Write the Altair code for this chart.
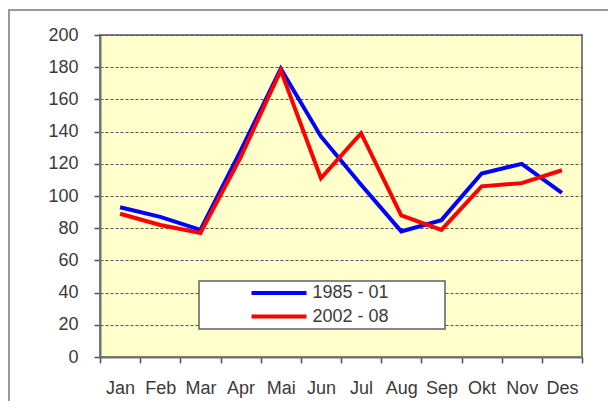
import altair as alt
import pandas as pd

months = ["Jan", "Feb", "Mar", "Apr", "Mai", "Jun", "Jul", "Aug", "Sep", "Okt", "Nov", "Des"]
series_names = ["1985 - 01", "2002 - 08"]
s1985 = [93, 87, 79, 128, 179, 137, 107, 78, 85, 114, 120, 102]
s2002 = [89, 82, 77, 124, 178, 111, 139, 88, 79, 106, 108, 116]
colors = ["#0000FF", "#FF0000"]
y_ticks = [0, 20, 40, 60, 80, 100, 120, 140, 160, 180, 200]

df = pd.DataFrame({
    "month": months * 2,
    "value": s1985 + s2002,
    "series": [series_names[0]] * 12 + [series_names[1]] * 12,
})
one = pd.DataFrame({"a": [0]})

FONT = "Liberation Sans"
TXT = "#3a3a3a"
FS = 18

x_enc = alt.X(
    "month:N", sort=months, title=None,
    scale=alt.Scale(type="band", paddingInner=0, paddingOuter=0),
    bandPosition=0.5,
    axis=alt.Axis(tickBand="extent", labelAngle=0, tickSize=6, labelPadding=16,
                  domainColor="#707070", domainWidth=2, tickColor="#505050", tickWidth=1.5,
                  labelFont=FONT, labelFontSize=FS, labelColor=TXT, grid=False),
)
y_enc = alt.Y(
    "value:Q", title=None, scale=alt.Scale(domain=[0, 200]),
    axis=alt.Axis(values=y_ticks, grid=True, gridDash=[3, 2], gridColor="#555555", gridWidth=1.2,
                  tickSize=6, labelPadding=16, domainColor="#707070", domainWidth=2,
                  tickColor="#505050", tickWidth=1.5,
                  labelFont=FONT, labelFontSize=FS, labelColor=TXT),
)

frame = alt.Chart(one).mark_rect(fill=None, stroke="#9a9a9a", strokeWidth=2, clip=False).encode(
    x=alt.value(-91), x2=alt.value(540), y=alt.value(-25), y2=alt.value(420)
)

legend_box = alt.Chart(one).mark_rect(fill="white", stroke="#606060", strokeWidth=1.5).encode(
    x=alt.value(99), x2=alt.value(345), y=alt.value(246), y2=alt.value(294)
)

lines = alt.Chart(df).mark_line(strokeWidth=4, strokeJoin="miter").encode(
    x=x_enc,
    y=y_enc,
    color=alt.Color(
        "series:N",
        scale=alt.Scale(domain=series_names, range=colors),
        legend=alt.Legend(
            title=None, orient="none", legendX=167, legendY=246, padding=0,
            symbolType="M-2.75,0H2.75", symbolSize=400, symbolStrokeWidth=4,
            symbolFillColor="transparent",
            labelFont=FONT, labelFontSize=FS, labelColor=TXT, labelOffset=21.5,
            rowPadding=2.5,
        ),
    ),
)

chart = alt.layer(legend_box, lines, frame).properties(
    width=482, height=322,
    autosize=alt.AutoSizeParams(type="none"),
    padding={"left": 92, "top": 27, "right": 26, "bottom": 44},
    background="white",
).configure_view(
    fill="#FFFFCC", stroke="#808080", strokeWidth=2
)

chart.save("out.html", embed_options={"renderer": "svg", "actions": False})
